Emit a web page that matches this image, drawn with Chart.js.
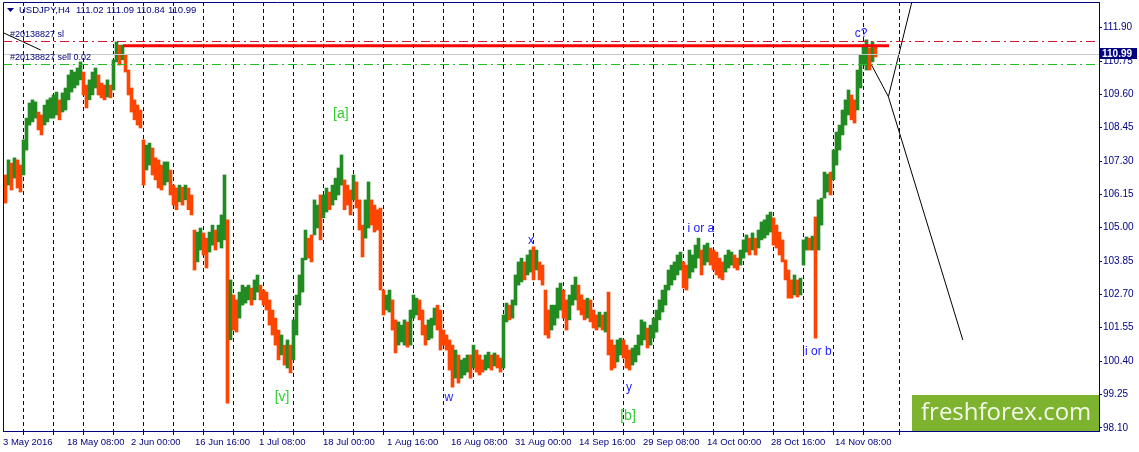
<!DOCTYPE html>
<html>
<head>
<meta charset="utf-8">
<script src="https://cdn.jsdelivr.net/npm/chart.js@4.4.0/dist/chart.umd.min.js"></script>
<style>
  html, body { margin: 0; padding: 0; background: #fff; }
  #wrap { width: 1139px; height: 452px; }
</style>
</head>
<body>
<div id="wrap"><canvas id="chart" width="1139" height="452"></canvas></div>
<script>
"use strict";

// USDJPY H4, May - Nov 2016 (one bar here ~ 3 source bars)
const highs = [
  106.82, 107.34, 107.23, 107.41, 107.34, 107.16, 108.03, 108.78, 109.30, 109.41,
  109.34, 108.99, 108.89, 109.23, 109.41, 109.48, 109.58, 109.68, 109.41, 109.65,
  109.82, 110.27, 110.44, 110.37, 110.51, 110.72, 110.37, 109.92, 110.10, 110.37,
  110.51, 110.27, 109.99, 109.92, 110.10, 109.92, 110.79, 111.41, 111.30, 111.30,
  110.96, 110.44, 109.82, 109.41, 109.23, 109.06, 108.03, 107.85, 107.92, 107.75,
  107.41, 107.34, 107.16, 107.27, 107.27, 106.99, 106.47, 106.37, 106.47, 106.40,
  106.47, 106.37, 106.13, 104.92, 104.85, 104.99, 104.82, 104.64, 104.85, 105.09,
  104.92, 105.09, 105.44, 106.82, 105.27, 103.20, 102.68, 102.51, 102.78, 103.02,
  102.95, 103.02, 102.92, 103.20, 103.37, 103.02, 102.85, 102.78, 102.51, 102.16,
  101.88, 101.47, 101.30, 100.95, 101.13, 100.95, 101.82, 102.68, 103.37, 103.95,
  104.92, 104.64, 104.75, 105.96, 105.78, 106.13, 106.13, 106.37, 106.23, 106.47,
  106.71, 107.06, 107.51, 106.65, 106.47, 106.30, 106.82, 106.58, 105.96, 105.09,
  105.96, 106.58, 105.96, 105.78, 105.62, 105.68, 102.85, 102.68, 102.85, 102.51,
  101.82, 101.75, 101.64, 101.82, 101.75, 102.16, 102.68, 102.57, 102.51, 102.16,
  101.64, 101.82, 101.88, 102.23, 102.33, 102.16, 101.47, 101.30, 101.13, 100.95,
  100.78, 100.61, 100.44, 100.50, 100.61, 100.61, 100.95, 100.78, 100.61, 100.44,
  100.61, 100.71, 100.61, 100.68, 100.61, 100.50, 101.99, 102.40, 102.33, 102.51,
  103.37, 103.82, 103.95, 103.82, 104.06, 104.23, 104.34, 104.23, 103.82, 103.71,
  102.85, 102.16, 102.33, 102.33, 102.92, 103.09, 102.85, 102.51, 102.68, 103.02,
  103.30, 103.02, 102.68, 102.51, 102.57, 102.51, 102.16, 101.99, 102.09, 101.99,
  102.09, 102.78, 101.13, 100.95, 101.13, 101.19, 101.13, 100.95, 100.78, 100.85,
  100.95, 101.30, 101.82, 101.75, 101.54, 101.64, 101.88, 102.16, 102.51, 102.85,
  103.02, 103.54, 103.71, 103.82, 104.06, 104.16, 103.82, 103.71, 104.23, 104.06,
  104.40, 104.64, 104.23, 104.40, 104.47, 104.30, 104.23, 104.16, 103.95, 103.82,
  104.06, 104.23, 104.16, 104.06, 103.95, 104.23, 104.58, 104.75, 104.64, 104.82,
  104.64, 104.92, 105.20, 105.27, 105.44, 105.54, 105.34, 105.09, 104.85, 104.58,
  103.89, 103.54, 103.20, 103.37, 103.20, 103.26, 104.58, 104.68, 104.64, 104.71,
  105.37, 105.96, 106.02, 106.92, 106.85, 106.92, 107.68, 108.30, 108.54, 109.06,
  109.41, 109.75, 109.58, 109.41, 110.44, 110.96, 111.30, 111.48, 111.20, 111.41,
  111.23
];
const lows = [
  105.85, 106.47, 106.30, 106.71, 106.37, 106.23, 106.82, 107.68, 108.54, 108.65,
  108.78, 108.37, 108.20, 108.54, 108.65, 108.78, 108.78, 108.89, 108.72, 108.99,
  109.06, 109.41, 109.68, 109.82, 109.92, 110.10, 109.58, 109.13, 109.41, 109.58,
  109.82, 109.58, 109.48, 109.41, 109.51, 109.48, 109.75, 110.72, 110.61, 110.79,
  110.37, 109.58, 108.99, 108.72, 108.54, 108.44, 106.47, 106.99, 107.16, 106.82,
  106.65, 106.37, 106.30, 106.47, 106.58, 106.13, 105.78, 105.62, 105.89, 105.78,
  105.96, 105.62, 105.44, 103.54, 103.82, 104.23, 104.06, 103.61, 104.16, 104.40,
  104.23, 104.51, 104.30, 104.58, 98.95, 101.13, 101.47, 101.40, 101.88, 102.33,
  102.40, 102.51, 102.33, 102.51, 102.78, 102.51, 102.33, 102.16, 101.64, 101.30,
  100.95, 100.44, 100.61, 100.26, 100.16, 99.99, 100.44, 101.30, 102.33, 102.78,
  103.89, 103.95, 103.82, 104.75, 104.99, 104.58, 105.34, 105.54, 105.62, 105.78,
  105.96, 106.13, 106.47, 105.62, 105.78, 105.44, 105.96, 105.68, 104.92, 103.99,
  104.64, 104.99, 105.09, 104.85, 104.92, 102.85, 101.99, 102.16, 102.09, 101.47,
  100.68, 100.95, 101.06, 100.95, 100.88, 100.95, 101.88, 101.99, 101.82, 101.30,
  100.95, 101.13, 101.19, 101.64, 101.47, 100.78, 100.95, 100.78, 100.09, 99.50,
  99.81, 99.64, 99.81, 99.92, 100.02, 99.81, 100.16, 100.02, 99.92, 100.02,
  100.09, 100.16, 100.09, 100.23, 100.16, 100.02, 100.16, 101.75, 101.82, 101.88,
  102.33, 103.02, 103.13, 103.20, 103.37, 103.47, 103.20, 103.54, 103.20, 103.02,
  101.30, 101.19, 101.47, 101.64, 101.88, 102.16, 101.88, 101.47, 101.82, 102.33,
  102.51, 102.16, 101.99, 101.82, 101.88, 101.75, 101.54, 101.47, 101.57, 101.47,
  101.40, 100.61, 100.09, 100.16, 100.37, 100.61, 100.50, 100.16, 100.09, 100.26,
  100.37, 100.61, 100.95, 101.13, 100.85, 100.95, 101.19, 101.40, 101.82, 102.09,
  102.33, 102.85, 103.02, 103.20, 103.37, 103.54, 102.92, 102.85, 103.26, 103.47,
  103.61, 103.95, 103.37, 103.71, 103.82, 103.71, 103.54, 103.37, 103.26, 103.20,
  103.47, 103.61, 103.71, 103.61, 103.54, 103.71, 103.95, 104.16, 104.06, 104.23,
  104.06, 104.30, 104.58, 104.64, 104.75, 104.85, 104.40, 104.30, 104.06, 103.82,
  103.20, 102.57, 102.57, 102.68, 102.61, 102.68, 103.71, 104.23, 104.23, 104.23,
  101.19, 104.23, 105.09, 106.02, 106.23, 106.13, 106.65, 107.16, 107.68, 108.20,
  108.54, 108.89, 108.72, 108.61, 109.06, 109.82, 110.61, 110.44, 110.44, 110.72,
  110.89
];

const priceTicks = [111.90, 110.75, 109.60, 108.45, 107.30, 106.15, 105.00, 103.85, 102.70, 101.55, 100.40, 99.25, 98.10];
const timeLabels = ["3 May 2016", "18 May 08:00", "2 Jun 00:00", "16 Jun 16:00", "1 Jul 08:00", "18 Jul 00:00", "1 Aug 16:00",
  "16 Aug 08:00", "31 Aug 00:00", "14 Sep 16:00", "29 Sep 08:00", "14 Oct 00:00", "28 Oct 16:00", "14 Nov 08:00"];
const timeLabelBars = [-0.83, 20.5, 41.83, 63.17, 84.5, 105.83, 127.17, 148.5, 169.83, 191.17, 212.5, 233.83, 255.17, 276.5];
const weekBars = [5.94, 15.94, 25.94, 35.94, 45.94, 55.94, 65.94, 75.94, 85.94, 95.94, 105.94, 115.94, 125.94, 135.94, 145.94,
  155.94, 165.94, 175.94, 185.94, 195.94, 205.94, 215.94, 225.94, 235.94, 245.94, 255.94, 265.94, 275.94, 285.94, 297.94];

const lastQuote = ["USDJPY,H4", "111.02", "111.09", "110.84", "110.99"];
const lastPrice = 110.99;
const stopLevel = 111.43;
const entryLevel = 110.65;
const resistance = [{ x: 39.2, y: 111.28 }, { x: 294.5, y: 111.28 }];
const oldTrend = [{ x: -0.83, y: 111.73 }, { x: 11.73, y: 111.13 }];
const pathUp = [{ x: 288.7, y: 110.61 }, { x: 294.3, y: 109.52 }, { x: 302.7, y: 113.03 }];
const pathDown = [{ x: 294.3, y: 109.52 }, { x: 319.1, y: 101.13 }];

const waveText = ["[a]", "[v]", "[b]", "x", "w", "y", "i or a", "ii or b", "c?"];
const waveBar = [111.8, 92.2, 207.5, 175.2, 147.8, 207.8, 231.8, 270.5, 285.2];
const wavePrice = [108.92, 99.16, 98.50, 104.54, 99.12, 99.47, 104.95, 100.71, 111.68];

const NAVY = "#000080";
const FONT = "'Liberation Sans', 'DejaVu Sans', sans-serif";

const barColors = highs.map((h, i) => {
  const mid = (h + lows[i]) / 2;
  const prev = i ? (highs[i - 1] + lows[i - 1]) / 2 : mid + 1;
  return mid >= prev ? "#228b22" : "#ff4500";
});

const overlay = {
  id: "overlay",
  afterDatasetsDraw(chart) {
    const { ctx, chartArea: a, scales: { x, y } } = chart;
    ctx.save();
    const hline = (price, color, dash) => {
      const py = Math.round(y.getPixelForValue(price)) + 0.5;
      ctx.beginPath();
      ctx.setLineDash(dash);
      ctx.strokeStyle = color;
      ctx.lineWidth = 1;
      ctx.moveTo(a.left, py);
      ctx.lineTo(a.right, py);
      ctx.stroke();
    };
    hline(lastPrice, "#c8c8c8", []);
    hline(stopLevel, "#d01830", [9, 4, 2, 4]);
    hline(entryLevel, "#20c020", [9, 4, 2, 4]);
    ctx.setLineDash([]);

    ctx.font = "9px " + FONT;
    ctx.fillStyle = NAVY;
    ctx.textBaseline = "middle";
    ctx.textAlign = "left";
    ctx.fillText("#20138827 sl", 10, 35);
    ctx.fillText("#20138827 sell 0.02", 10, 58);

    waveText.forEach((t, i) => {
      const bracket = t.startsWith("[");
      ctx.font = (bracket ? "14px " : "12px ") + FONT;
      ctx.fillStyle = bracket ? "#32cd32" : "#2020ff";
      ctx.textAlign = "center";
      ctx.fillText(t, x.getPixelForValue(waveBar[i]), y.getPixelForValue(wavePrice[i]));
    });
    ctx.restore();
  },
  afterDraw(chart) {
    const { ctx, chartArea: a, scales: { y } } = chart;
    ctx.save();
    // frame top and left
    ctx.strokeStyle = NAVY;
    ctx.lineWidth = 1;
    ctx.beginPath();
    ctx.moveTo(a.left + 0.5, a.bottom);
    ctx.lineTo(a.left + 0.5, a.top + 0.5);
    ctx.lineTo(a.right, a.top + 0.5);
    ctx.stroke();

    // title
    ctx.fillStyle = NAVY;
    ctx.beginPath();
    ctx.moveTo(7, 8);
    ctx.lineTo(14, 8);
    ctx.lineTo(10.5, 12);
    ctx.closePath();
    ctx.fill();
    ctx.font = "9.5px " + FONT;
    ctx.textBaseline = "middle";
    ctx.textAlign = "left";
    const titleX = [19, 76, 106.5, 136.5, 168];
    lastQuote.forEach((t, i) => ctx.fillText(t, titleX[i], 10.5));

    // watermark
    ctx.fillStyle = "#7db32f";
    ctx.fillRect(912, 395, a.right - 912, a.bottom - 395);
    ctx.fillStyle = "#f4f8ea";
    ctx.font = "24px 'Open Sans', sans-serif";
    ctx.textBaseline = "alphabetic";
    ctx.fillText("freshforex.com", 921, 420);

    // last price tag
    const py = y.getPixelForValue(lastPrice);
    ctx.fillStyle = NAVY;
    ctx.fillRect(a.right + 1, Math.round(py) - 6, 37, 11);
    ctx.fillStyle = "#ffffff";
    ctx.font = "bold 10px " + FONT;
    ctx.textBaseline = "middle";
    ctx.fillText(lastPrice.toFixed(2), a.right + 3, py);
    ctx.restore();
  }
};

const xMin = -0.833;
const xMax = 364.5;

new Chart(document.getElementById("chart"), {
  type: "bar",
  data: {
    datasets: [
      {
        type: "line", data: resistance, borderColor: "#ff0000", borderWidth: 3,
        pointRadius: 0, order: 1
      },
      {
        type: "line", data: oldTrend, borderColor: "#000000", borderWidth: 1,
        pointRadius: 0, order: 1
      },
      {
        type: "line", data: pathUp, borderColor: "#000000", borderWidth: 1,
        pointRadius: 0, order: 1
      },
      {
        type: "line", data: pathDown, borderColor: "#000000", borderWidth: 1,
        pointRadius: 0, order: 1
      },
      {
        type: "bar",
        data: highs.map((h, i) => ({ x: i, y: [lows[i], h] })),
        backgroundColor: barColors,
        barThickness: 3,
        grouped: false,
        order: 2
      }
    ]
  },
  options: {
    responsive: false,
    animation: false,
    events: [],
    layout: { padding: { top: 2, left: 3, right: 0, bottom: 0 } },
    plugins: { legend: { display: false }, tooltip: { enabled: false } },
    scales: {
      x: {
        type: "linear", position: "bottom", min: xMin, max: xMax, offset: false, weight: 0, z: 1,
        afterBuildTicks: (s) => { s.ticks = weekBars.map(v => ({ value: v })); },
        afterFit: (s) => { s.height = 4; s.paddingLeft = 0; s.paddingRight = 0; },
        ticks: { display: false },
        grid: { offset: false, color: NAVY, lineWidth: 1, drawTicks: true, tickLength: 4, tickBorderDash: [] },
        border: { display: true, color: NAVY, width: 1, dash: [4, 3] }
      },
      x2: {
        type: "linear", position: "bottom", min: xMin, max: xMax, offset: false, weight: 1,
        afterBuildTicks: (s) => { s.ticks = timeLabelBars.map(v => ({ value: v })); },
        afterFit: (s) => { s.height = 17; s.paddingLeft = 0; s.paddingRight = 0; },
        ticks: {
          align: "start", autoSkip: false, maxRotation: 0, minRotation: 0, padding: 2,
          color: NAVY, font: { family: FONT, size: 9.5 },
          callback: (v, i) => timeLabels[i]
        },
        grid: { display: false, drawTicks: false },
        border: { display: false }
      },
      y: {
        type: "linear", position: "right", min: 97.988, max: 112.786,
        afterBuildTicks: (s) => { s.ticks = priceTicks.map(v => ({ value: v })); },
        afterFit: (s) => { s.width = 40; s.paddingTop = 0; s.paddingBottom = 0; },
        ticks: {
          padding: 1, color: NAVY, font: { family: FONT, size: 10 },
          callback: (v) => v.toFixed(2)
        },
        grid: { drawOnChartArea: false, drawTicks: true, tickLength: 3, color: NAVY },
        border: { display: true, color: NAVY, width: 1 }
      }
    }
  },
  plugins: [overlay]
});
</script>
</body>
</html>
